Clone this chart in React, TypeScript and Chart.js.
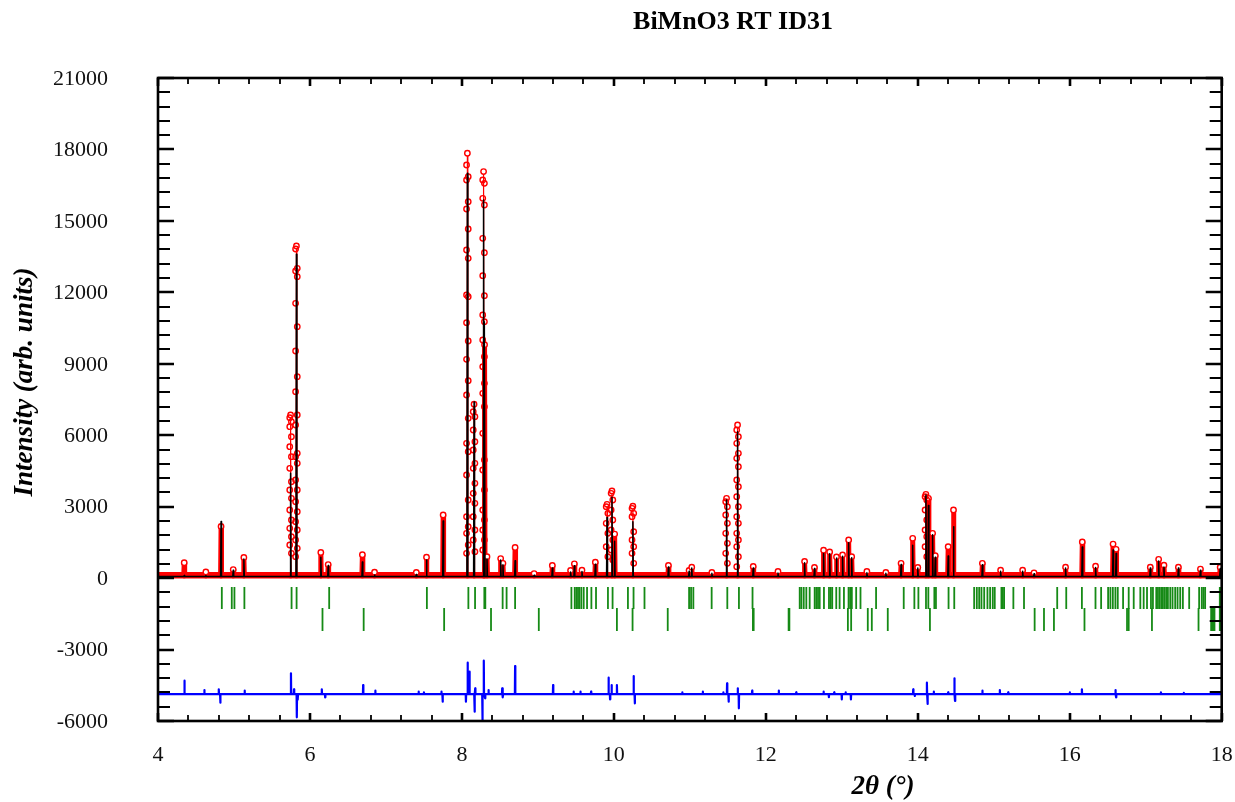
import React, { useEffect, useRef } from 'react';
import { Chart, registerables } from 'chart.js';

Chart.register(...registerables);

// ---------- tick labels ----------
const xTickLabels = ['4', '6', '8', '10', '12', '14', '16', '18'];
const yTickLabels = ['-6000', '-3000', '0', '3000', '6000', '9000', '12000', '15000', '18000', '21000'];

// ---------- observed / calculated peaks (2θ, intensity) ----------
const peakPos = [
  4.345, 4.63, 4.83, 4.99, 5.13, 5.745, 5.822, 6.143, 6.24, 6.69, 6.85, 7.40, 7.534, 7.753,
  8.072, 8.16, 8.285, 8.298, 8.33, 8.51, 8.54, 8.70, 8.95, 9.19, 9.43, 9.48, 9.58, 9.756,
  9.91, 9.975, 10.01, 10.25, 10.718, 10.99, 11.025, 11.29, 11.483, 11.628, 11.834, 12.16,
  12.51, 12.64, 12.76, 12.84, 12.93, 13.01, 13.09, 13.13, 13.33, 13.58, 13.78, 13.933, 14.0,
  14.107, 14.14, 14.195, 14.23, 14.40, 14.47, 14.85, 15.09, 15.38, 15.53, 15.945, 16.165,
  16.34, 16.57, 16.61, 17.06, 17.17, 17.24, 17.43, 17.72, 17.98,
];
const peakObs = [
  650, 260, 2170, 360, 870, 6850, 13950, 1080, 570, 980, 250, 240, 880, 2650,
  17840, 7300, 17070, 9800, 900, 820, 620, 1290, 190, 530, 320, 600, 330, 670,
  3100, 3660, 1850, 3020, 530, 320, 460, 240, 3350, 6430, 490, 280,
  700, 450, 1170, 1100, 890, 970, 1600, 900, 280, 240, 620, 1670, 450,
  3520, 3350, 1880, 940, 1320, 2860, 620, 330, 330, 220, 460, 1520,
  500, 1430, 1210, 460, 790, 540, 460, 380, 460,
];
const peakCalc = [
  110, 110, 2380, 330, 800, 4400, 13600, 880, 530, 680, 130, 150, 760, 2400,
  17000, 7400, 15880, 10770, 800, 760, 560, 730, 120, 420, 260, 520, 280, 580,
  2550, 3400, 1550, 2370, 470, 290, 420, 200, 3280, 6150, 420, 210,
  640, 400, 1030, 1020, 840, 920, 1480, 860, 230, 200, 570, 1380, 420,
  3490, 3050, 1820, 880, 930, 2160, 560, 290, 290, 180, 420, 1310,
  450, 1180, 1030, 420, 720, 470, 420, 330, 400,
];
const backgroundObs = 120;
const backgroundCalc = 70;
const peakHalfWidth = 0.006;

// ---------- observed points read on the flanks of the strongest reflections ----------
const flank5745 = [6737, 6569, 6359, 5939, 5519, 5100, 4610, 4049, 3699, 3350, 2860, 2440, 2090, 1740, 1390, 1041];
const flank5822 = [13819, 13009, 12895, 12656, 11539, 10560, 9536, 8459, 7829, 6849, 6429, 5240, 5100, 4820, 4119, 3699, 3210, 2790, 2370, 2020, 1600, 1251, 900];
const flank8072 = [17346, 16856, 16716, 15806, 15499, 14659, 13777, 13428, 11888, 11816, 10725, 9956, 9188, 8289, 7689, 6710, 5660, 5308, 4329, 3280, 2578, 2158, 1881, 1390, 1041];
const flank8160 = [6988, 6778, 6219, 5728, 5379, 4819, 4609, 3979, 3559, 3140, 2578, 2020, 1600, 1109];
const flank8285 = [16716, 16576, 15946, 15667, 14268, 13665, 12699, 11858, 11048, 10766, 9998, 9298, 8878, 8179, 7759, 7199, 6080, 4959, 4539, 3699, 2860, 2440, 2020, 1600, 1180];
const flank9910 = [2998, 2719, 2301, 1881, 1318, 899];
const flank9975 = [3559, 3279, 2860, 2440, 2020, 1600, 1180, 760];
const flank10250 = [2929, 2719, 2578, 1950, 1600, 1318, 1041, 621];
const flank11483 = [3210, 2998, 2650, 2301, 1881, 1461, 1041, 621];
const flank11628 = [6219, 5939, 5660, 5240, 5030, 4679, 4119, 3838, 3418, 2998, 2578, 2301, 1881, 1600, 1318, 899, 479];
const flank14107 = [3418, 3279, 2860, 2440, 2020, 1740, 1318, 899];
const flankPeaks = [5.745, 5.822, 8.072, 8.16, 8.285, 9.91, 9.975, 10.25, 11.483, 11.628, 14.107];
const flankValues = [flank5745, flank5822, flank8072, flank8160, flank8285, flank9910, flank9975, flank10250, flank11483, flank11628, flank14107];

// ---------- difference curve (Yobs - Ycalc, shifted) ----------
const diffBaseline = -4870;
const diffPos = [
  4.348, 4.61, 4.80, 4.82, 5.14, 5.75, 5.79, 5.827, 5.84, 6.156, 6.20, 6.70, 6.86, 7.43, 7.50,
  7.73, 7.746, 8.053, 8.075, 8.10, 8.165, 8.175, 8.27, 8.288, 8.305, 8.35, 8.53, 8.54, 8.70,
  9.20, 9.47, 9.56, 9.70, 9.93, 9.95, 9.97, 10.04, 10.26, 10.275, 10.90, 11.17, 11.44, 11.49,
  11.51, 11.63, 11.645, 11.82, 12.17, 12.40, 12.76, 12.83, 12.90, 13.00, 13.05, 13.12, 13.94,
  13.96, 14.12, 14.13, 14.21, 14.40, 14.48, 14.49, 14.85, 15.08, 15.19, 16.00, 16.16, 16.60,
  16.61, 17.20, 17.50,
];
const diffVal = [
  -4308, -4700, -4670, -5232, -4728, -3998, -4670, -5846, -5100, -4670, -5005, -4489, -4728, -4770, -4800,
  -4770, -5190, -5190, -3552, -3930, -5610, -4628, -5958, -3468, -5048, -4699, -4628, -5005, -3691,
  -4489, -4770, -4770, -4770, -4182, -5090, -4489, -4489, -4111, -5259, -4800, -4770, -4800, -4419,
  -5190, -4628, -5468, -4728, -4728, -4800, -4770, -5000, -4800, -5090, -4800, -5090, -4670,
  -4950, -4391, -5287, -4770, -4800, -4209, -5161, -4728, -4699, -4800, -4800, -4670, -4699,
  -5005, -4800, -4820,
];

// ---------- Bragg reflection positions ----------
const braggPhase1 = [
  4.84, 4.971, 5.006, 5.137, 5.758, 5.824, 6.253, 7.539, 8.085, 8.173, 8.295, 8.308, 8.536, 8.588, 8.70,
  9.441, 9.485, 9.507, 9.528, 9.546, 9.572, 9.603, 9.647, 9.704, 9.765, 9.922, 9.983, 10.185, 10.259,
  10.403, 10.99, 11.016, 11.046, 11.287, 11.493, 11.646, 11.825, 12.446, 12.468, 12.499, 12.533,
  12.577, 12.643, 12.665, 12.687, 12.709, 12.765, 12.831, 12.853, 12.874, 12.927, 12.971, 13.028,
  13.089, 13.11, 13.132, 13.189, 13.246, 13.451, 13.815, 13.955, 14.008, 14.108, 14.139, 14.218,
  14.239, 14.405, 14.48, 14.742, 14.777, 14.808, 14.838, 14.874, 14.917, 14.952, 14.987, 15.013,
  15.101, 15.118, 15.136, 15.258, 15.398, 15.835, 15.954, 16.16, 16.339, 16.413, 16.505, 16.535,
  16.567, 16.601, 16.632, 16.702, 16.776, 16.842, 16.929, 16.973, 17.017, 17.069, 17.095, 17.139,
  17.161, 17.183, 17.205, 17.226, 17.248, 17.27, 17.292, 17.323, 17.353, 17.388, 17.419, 17.454,
  17.489, 17.572, 17.703, 17.738, 17.76, 17.782, 17.975, 17.985,
];
const braggPhase2 = [
  6.165, 6.707, 7.766, 8.383, 9.012, 10.04, 10.246, 10.709, 11.83, 11.84, 12.30, 12.31, 13.08,
  13.123, 13.342, 13.395, 13.605, 14.16, 15.538, 15.661, 15.792, 16.194, 16.754, 16.776, 17.082,
  17.695, 17.861, 17.872, 17.883, 17.894, 17.905, 17.975, 17.985,
];
const braggRow1 = -836;
const braggRow2 = -1738;

const xMin = 4, xMax = 18, yMin = -6000, yMax = 21000;

function buildProfile(heights: number[], bg: number) {
  const pts: { x: number; y: number }[] = [{ x: xMin, y: bg }];
  peakPos.forEach((p, i) => {
    pts.push({ x: p - peakHalfWidth, y: bg }, { x: p, y: heights[i] }, { x: p + peakHalfWidth, y: bg });
  });
  pts.push({ x: xMax, y: bg });
  return pts;
}

function buildFlanks() {
  const pts: { x: number; y: number }[] = [];
  flankPeaks.forEach((p, k) => {
    flankValues[k].forEach((v, j) => {
      pts.push({ x: p + (j % 2 === 0 ? -0.011 : 0.011), y: v });
    });
  });
  return pts;
}

function buildDiff() {
  const pts: { x: number; y: number }[] = [{ x: xMin, y: diffBaseline }];
  diffPos.forEach((p, i) => {
    pts.push({ x: p - 0.003, y: diffBaseline }, { x: p, y: diffVal[i] }, { x: p + 0.003, y: diffBaseline });
  });
  pts.push({ x: xMax, y: diffBaseline });
  return pts;
}

const flankedApex = new Set<number>();
peakPos.forEach((p, i) => {
  if (flankPeaks.indexOf(p) >= 0) flankedApex.add(3 * i + 2);
});

const framePlugin = {
  id: 'rietveldFrame',
  afterDatasetsDraw(chart: any) {
    const { ctx, chartArea: a, scales } = chart;
    const xs = scales.x, ys = scales.y;
    ctx.save();
    ctx.strokeStyle = '#000';
    ctx.lineCap = 'butt';
    for (let i = 0; i <= 45; i++) {
      const v = yMin + i * 600;
      const py = Math.round(ys.getPixelForValue(v));
      const major = i % 5 === 0;
      const len = major ? 16 : 12;
      ctx.lineWidth = major ? 2.6 : 1.8;
      ctx.beginPath();
      ctx.moveTo(a.left, py); ctx.lineTo(a.left + len, py);
      ctx.moveTo(a.right, py); ctx.lineTo(a.right - len, py);
      ctx.stroke();
    }
    for (let i = 0; i <= 35; i++) {
      const v = xMin + i * 0.4;
      const px = Math.round(xs.getPixelForValue(v));
      const major = i % 5 === 0;
      const len = major ? 8 : 6;
      ctx.lineWidth = major ? 2.6 : 1.8;
      ctx.beginPath();
      ctx.moveTo(px, a.bottom); ctx.lineTo(px, a.bottom - len);
      ctx.moveTo(px, a.top); ctx.lineTo(px, a.top + len);
      ctx.stroke();
    }
    ctx.lineWidth = 2.6;
    ctx.strokeRect(a.left, a.top, a.right - a.left, a.bottom - a.top);

    ctx.fillStyle = '#111';
    ctx.font = '22px "Liberation Serif", "DejaVu Serif", serif';
    ctx.textAlign = 'right';
    ctx.textBaseline = 'middle';
    yTickLabels.forEach((t) => {
      const py = ys.getPixelForValue(Number(t));
      ctx.fillText(t, a.left - 50, py + 1);
    });
    ctx.textAlign = 'center';
    xTickLabels.forEach((t) => {
      const px = xs.getPixelForValue(Number(t));
      ctx.fillText(t, px, a.bottom + 34);
    });

    ctx.fillStyle = '#000';
    ctx.font = 'bold 26px "Liberation Serif", serif';
    ctx.textAlign = 'center';
    ctx.fillText('BiMnO3 RT ID31', 733, 22);
    ctx.font = 'italic bold 27px "Liberation Serif", serif';
    ctx.fillText('2θ (°)', 883, 787);
    ctx.save();
    ctx.translate(25, 382);
    ctx.rotate(-Math.PI / 2);
    ctx.fillText('Intensity (arb. units)', 0, 0);
    ctx.restore();
    ctx.restore();
  },
};

export default function App() {
  const ref = useRef<HTMLCanvasElement | null>(null);
  useEffect(() => {
    if (!ref.current) return;
    const obsPts = buildProfile(peakObs, backgroundObs);
    const calcPts = buildProfile(peakCalc, backgroundCalc);
    const chart = new Chart(ref.current, {
      type: 'scatter',
      data: {
        datasets: [
          {
            label: 'Ycalc',
            data: calcPts,
            showLine: true,
            borderColor: '#000000',
            borderWidth: 1.5,
            borderJoinStyle: 'round',
            pointRadius: 0,
            order: 0,
          } as any,
          {
            label: 'Yobs flank points',
            data: buildFlanks(),
            showLine: false,
            pointRadius: 2.7,
            pointBorderColor: '#ff0000',
            pointBackgroundColor: 'rgba(255,255,255,0)',
            pointBorderWidth: 1.4,
            order: 1,
          } as any,
          {
            label: 'Yobs',
            data: obsPts,
            showLine: true,
            borderColor: '#ff0000',
            borderWidth: 6.5,
            borderJoinStyle: 'round',
            borderCapStyle: 'round',
            segment: {
              borderWidth: (c: any) => {
                if (flankedApex.has(c.p0DataIndex) || flankedApex.has(c.p1DataIndex)) return 1.2;
                if (c.p0.parsed.y === backgroundObs && c.p1.parsed.y === backgroundObs) return 6.5;
                return 5;
              },
            },
            pointRadius: (c: any) => (c.dataIndex % 3 === 2 ? 2.7 : 0),
            pointBorderColor: '#ff0000',
            pointBackgroundColor: '#ffffff',
            pointBorderWidth: 1.4,
            order: 2,
          } as any,
          {
            label: 'Yobs-Ycalc',
            data: buildDiff(),
            showLine: true,
            borderColor: '#0000ff',
            borderWidth: 2.2,
            borderJoinStyle: 'round',
            pointRadius: 0,
            order: 3,
          } as any,
          {
            label: 'Bragg 1',
            data: braggPhase1.map((x) => ({ x, y: braggRow1 })),
            showLine: false,
            pointStyle: 'line',
            rotation: 90,
            pointRadius: 11,
            pointBorderColor: '#168a16',
            pointBorderWidth: 1.8,
            order: 4,
          } as any,
          {
            label: 'Bragg 2',
            data: braggPhase2.map((x) => ({ x, y: braggRow2 })),
            showLine: false,
            pointStyle: 'line',
            rotation: 90,
            pointRadius: 11.5,
            pointBorderColor: '#168a16',
            pointBorderWidth: 1.8,
            order: 4,
          } as any,
        ],
      },
      options: {
        responsive: false,
        animation: false,
        events: [],
        layout: { padding: { left: 158, top: 78, right: 10, bottom: 81 } },
        plugins: { legend: { display: false }, tooltip: { enabled: false }, title: { display: false } },
        scales: {
          x: { type: 'linear', min: xMin, max: xMax, display: false },
          y: { type: 'linear', min: yMin, max: yMax, display: false },
        },
      },
      plugins: [framePlugin],
    });
    return () => chart.destroy();
  }, []);
  return (
    <div style={{ position: 'fixed', left: 0, top: 0, width: 1235, height: 802, background: '#fff' }}>
      <canvas ref={ref} width={1235} height={802} />
    </div>
  );
}
